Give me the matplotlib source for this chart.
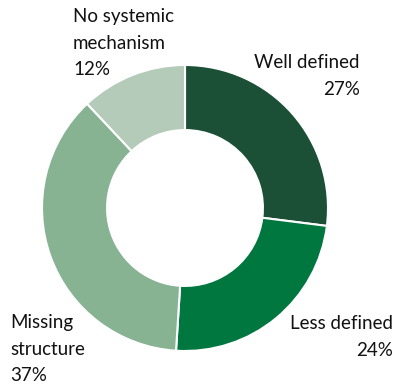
import matplotlib
matplotlib.use("Agg")
import matplotlib.pyplot as plt

# Share of cases by maturity of the mechanism
labels = ["Well defined", "Less defined", "Missing\nstructure", "No systemic\nmechanism"]
shares = [27, 24, 37, 12]
colors = ["#1b5037", "#00773e", "#87b393", "#b3cbb8"]

W, H = 396, 385
fig = plt.figure(figsize=(W / 100, H / 100), dpi=100)
plt.rcParams["font.family"] = ["Lato", "DejaVu Sans"]

# donut centred at (185, 208) px, outer radius 143 px
cx, cy, r = 185, 208, 143
ax = fig.add_axes([(cx - r) / W, (H - cy - r) / H, 2 * r / W, 2 * r / H])
ax.pie(shares, colors=colors, startangle=90, counterclock=False, radius=1,
       wedgeprops=dict(width=0.455, edgecolor="white", linewidth=1.5))
ax.set_xlim(-1, 1)
ax.set_ylim(-1, 1)
ax.set_aspect("equal")
ax.axis("off")


def label(x, y, text, ha):
    fig.text(x / W, 1 - y / H, text, ha=ha, va="top", fontsize=13.5,
             linespacing=1.68, color="#111111")


label(360, 54, f"{labels[0]}\n{shares[0]}%", "right")
label(393, 315, f"{labels[1]}\n{shares[1]}%", "right")
label(10, 314, f"{labels[2]}\n{shares[2]}%", "left")
label(73, 8, f"{labels[3]}\n{shares[3]}%", "left")

fig.savefig("out.png", dpi=100)
